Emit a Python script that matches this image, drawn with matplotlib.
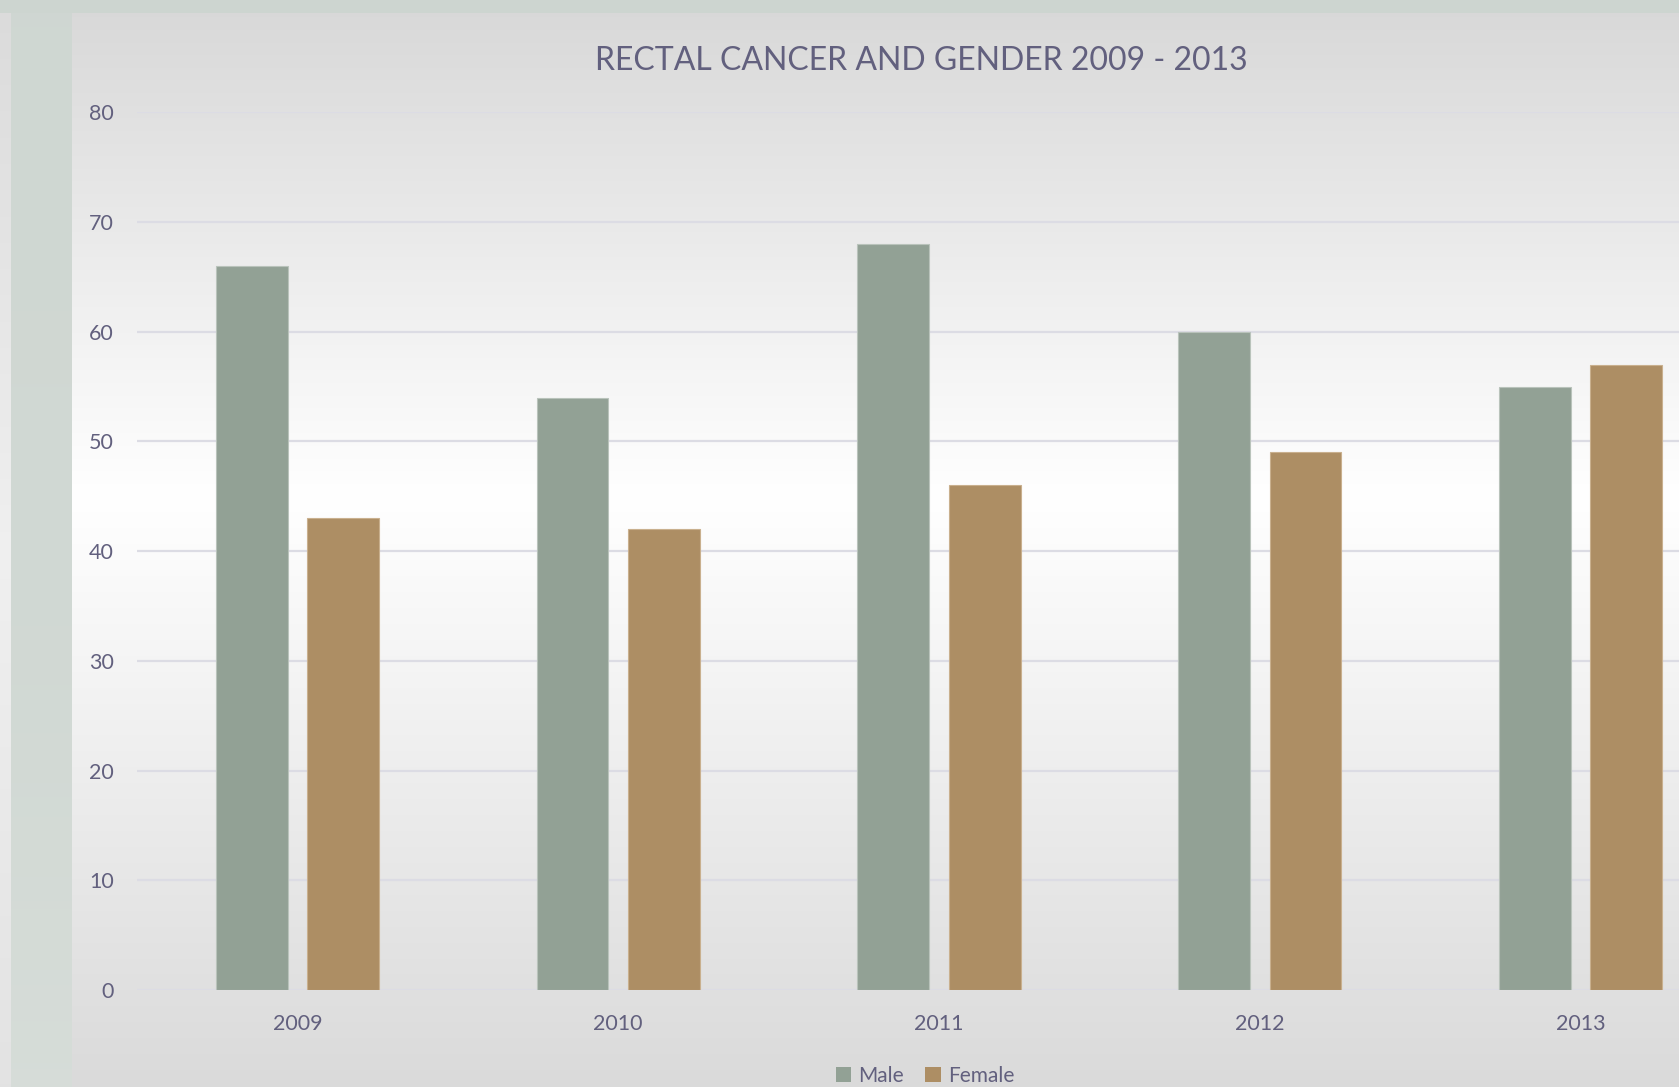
import numpy as np
import matplotlib
matplotlib.use("Agg")
import matplotlib.pyplot as plt
from matplotlib.patches import Patch

# Rectal cancer cases by gender
years = ["2009", "2010", "2011", "2012", "2013"]
male = [66, 54, 68, 60, 55]
female = [43, 42, 46, 49, 57]
y_ticks = [0, 10, 20, 30, 40, 50, 60, 70, 80]

TEXT = "#62607e"
MALE_C = "#92a195"
FEMALE_C = "#ad8e64"
FONT = ["Lato", "DejaVu Sans"]

W, H = 1679, 1087
fig = plt.figure(figsize=(W / 100, H / 100), dpi=100)

# ---- background layers ----
bg = fig.add_axes([0, 0, 1, 1], zorder=-10)
bg.set_xlim(0, W)
bg.set_ylim(H, 0)
bg.axis("off")

t = np.linspace(0, 1, 400)[:, None]
# grey -> white -> grey vertical shading
shade = np.interp(t, [0, 0.45, 1.0], [0.85, 1.0, 0.855])
chart = np.dstack([shade, shade, shade])
bg.imshow(chart, extent=[72, W, H, 13], aspect="auto", interpolation="bilinear")

edge = np.interp(t, [0, 0.5, 1.0], [0.86, 0.94, 0.89])
bg.imshow(np.dstack([edge, edge, edge]), extent=[0, 11, H, 13],
          aspect="auto", interpolation="bilinear")

sr = np.interp(t, [0, 0.6, 1.0], [0.812, 0.82, 0.84])
sg = np.interp(t, [0, 0.6, 1.0], [0.843, 0.85, 0.865])
sb = np.interp(t, [0, 0.6, 1.0], [0.824, 0.83, 0.848])
bg.imshow(np.dstack([sr, sg, sb]), extent=[11, 72, H, 13],
          aspect="auto", interpolation="bilinear")
bg.add_patch(plt.Rectangle((0, 0), W, 13, color="#cdd5d0", lw=0))

# ---- bar chart ----
ax = fig.add_axes([137 / W, (H - 990) / H, 1604 / W, 877.7 / H])
ax.set_facecolor("none")
x = np.arange(len(years))
bw = 0.2235
off = 0.1425
ax.bar(x - off, male, bw, color=MALE_C, edgecolor="#b9c3bb", linewidth=0.8, zorder=3)
ax.bar(x + off, female, bw, color=FEMALE_C, edgecolor="#c9b08e", linewidth=0.8, zorder=3)

ax.set_xlim(-0.5, len(years) - 0.5)
ax.set_ylim(0, 80)
ax.set_yticks(y_ticks)
ax.set_xticks(x)
ax.set_xticklabels(years)
ax.grid(axis="y", color="#dcdce4", linewidth=1.6, zorder=0)
for s in ax.spines.values():
    s.set_visible(False)
ax.tick_params(axis="both", length=0, labelcolor=TEXT, labelsize=15.5)
ax.tick_params(axis="y", pad=16.5)
ax.tick_params(axis="x", pad=17)
for lab in ax.get_xticklabels() + ax.get_yticklabels():
    lab.set_family(FONT)

fig.text(921 / W, 1 - 61 / H, "RECTAL CANCER AND GENDER 2009 - 2013",
         ha="center", va="center", color=TEXT, fontsize=23, family=FONT)

handles = [Patch(facecolor=MALE_C, edgecolor="none", label="Male"),
           Patch(facecolor=FEMALE_C, edgecolor="none", label="Female")]
fig.legend(handles=handles, loc="center", bbox_to_anchor=(925 / W, 1 - 1076 / H),
           ncol=2, frameon=False, handlelength=0.75, handleheight=0.75,
           handletextpad=0.35, columnspacing=1.0,
           prop={"family": FONT, "size": 15}, labelcolor=TEXT)

fig.savefig("out.png", dpi=100)
